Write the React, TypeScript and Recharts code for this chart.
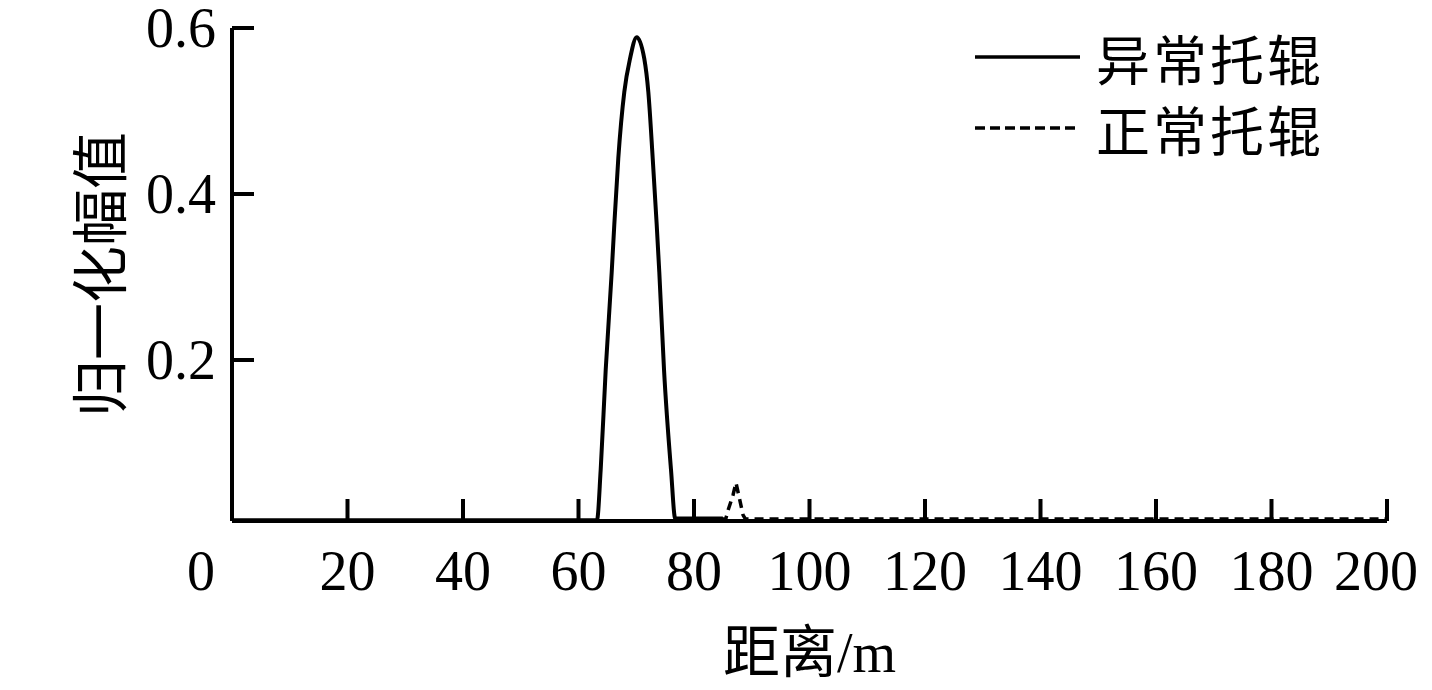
import React from 'react';
import { LineChart, Line, XAxis, YAxis, Legend } from 'recharts';

const xTicks = [0, 20, 40, 60, 80, 100, 120, 140, 160, 180, 200];
const yTicks = [0.2, 0.4, 0.6];

const abnormalX = [0, 63.2, 63.84, 64.71, 65.75, 66.2, 66.89, 67.93, 68.92, 70.08, 71.39, 72.09, 72.85, 73.54, 73.99, 74.81, 76.02, 76.75, 85];
const abnormalY = [0.007, 0.007, 0.0675, 0.188, 0.306, 0.363, 0.443, 0.523, 0.563, 0.589, 0.563, 0.523, 0.443, 0.363, 0.306, 0.188, 0.0675, 0.009, 0.009];

const normalX = [84.5, 85.5, 85.9, 86.75, 87.27, 87.97, 88.5, 88.9, 200];
const normalY = [0.0085, 0.0085, 0.019, 0.037, 0.052, 0.03, 0.013, 0.0085, 0.0085];

const seriesNames = ['异常托辊', '正常托辊'];
const xLabel = '距离';
const xUnit = '/m';
const yLabel = '归一化幅值';

const abnormalData = abnormalX.map((x, i) => ({ x, v: abnormalY[i] }));
const normalData = normalX.map((x, i) => ({ x, v: normalY[i] }));

const NUM_FONT = '"Liberation Serif", "Times New Roman", serif';
const CJK_FONT = '"Noto Sans CJK SC", sans-serif';
const FS = 56;

const XTick = (props: any) => {
  const { x, y, payload } = props;
  const v = payload.value;
  const shift = v === 0 ? -31 : v === 200 ? -11 : 0;
  return (
    <g>
      {v !== 0 && <line x1={x} y1={y} x2={x} y2={y - 22} stroke="#000" strokeWidth={4} />}
      <text x={x + shift} y={y + 69} textAnchor="middle" fontFamily={NUM_FONT} fontSize={FS} fill="#000">
        {v}
      </text>
    </g>
  );
};

const YTick = (props: any) => {
  const { x, y, payload } = props;
  return (
    <g>
      <line x1={x} y1={y} x2={x + 22} y2={y} stroke="#000" strokeWidth={4} />
      <text x={x - 16} y={y + 19} textAnchor="end" fontFamily={NUM_FONT} fontSize={FS} fill="#000">
        {payload.value}
      </text>
    </g>
  );
};

const XLabelContent = (props: any) => {
  const vb = props.viewBox || { x: 0, y: 0, width: 0, height: 0 };
  const cx = vb.x + vb.width / 2;
  return (
    <text x={cx} y={vb.y + 151} textAnchor="middle" fill="#000" fontSize={FS}>
      <tspan fontFamily={CJK_FONT} fontSize={57}>{xLabel}</tspan>
      <tspan fontFamily={NUM_FONT}>{xUnit}</tspan>
    </text>
  );
};

const YLabelContent = (props: any) => {
  const vb = props.viewBox || { x: 0, y: 0, width: 0, height: 0 };
  const cy = vb.y + vb.height / 2;
  const cx = 88;
  return (
    <text
      x={cx}
      y={cy}
      transform={`rotate(-90 ${cx} ${cy})`}
      textAnchor="middle"
      dominantBaseline="central"
      fontFamily={CJK_FONT}
      fontSize={57}
      fill="#000"
    >
      {yLabel}
    </text>
  );
};

const LegendContent = () => (
  <svg width={400} height={150} style={{ overflow: 'visible' }}>
    <line x1={7} y1={49} x2={112} y2={49} stroke="#000" strokeWidth={3.5} />
    <text x={128} y={49} dominantBaseline="central" fontFamily={CJK_FONT} fontSize={54} letterSpacing={3} fill="#000">
      {seriesNames[0]}
    </text>
    <line x1={7} y1={120} x2={112} y2={120} stroke="#000" strokeWidth={3.5} strokeDasharray="10 5" />
    <text x={128} y={120} dominantBaseline="central" fontFamily={CJK_FONT} fontSize={54} letterSpacing={3} fill="#000">
      {seriesNames[1]}
    </text>
  </svg>
);

export default function App() {
  return (
    <div style={{ width: 1416, height: 674, background: '#fff', overflow: 'visible' }}>
      <style>{'html, body { overflow: hidden !important; } svg, .recharts-wrapper, .recharts-surface { overflow: visible !important; }'}</style>
      <LineChart width={1416} height={674} margin={{ top: 20, right: 37, left: 0, bottom: 0 }} style={{ overflow: 'visible' }}>
        <XAxis
          type="number"
          dataKey="x"
          domain={[0, 200]}
          ticks={xTicks}
          interval={0}
          allowDataOverflow
          height={161}
          tickSize={0}
          tickMargin={0}
          tickLine={false}
          axisLine={{ stroke: '#000', strokeWidth: 4 }}
          tick={<XTick />}
          label={<XLabelContent />}
        />
        <YAxis
          type="number"
          domain={[0.006, 0.6]}
          ticks={yTicks}
          interval={0}
          allowDataOverflow
          width={224}
          tickSize={0}
          tickMargin={0}
          tickLine={false}
          axisLine={{ stroke: '#000', strokeWidth: 4 }}
          tick={<YTick />}
          label={<YLabelContent />}
        />
        <Legend
          layout="horizontal"
          verticalAlign="middle"
          align="center"
          content={<LegendContent />}
          wrapperStyle={{ position: 'absolute', left: 960, top: 0, width: 400, height: 150 }}
        />
        <Line
          data={normalData}
          dataKey="v"
          name={seriesNames[1]}
          type="linear"
          stroke="#000"
          strokeWidth={3.5}
          strokeDasharray="9 6"
          dot={false}
          activeDot={false}
          isAnimationActive={false}
        />
        <Line
          data={abnormalData}
          dataKey="v"
          name={seriesNames[0]}
          type="monotone"
          stroke="#000"
          strokeWidth={4}
          dot={false}
          activeDot={false}
          isAnimationActive={false}
        />
      </LineChart>
    </div>
  );
}
